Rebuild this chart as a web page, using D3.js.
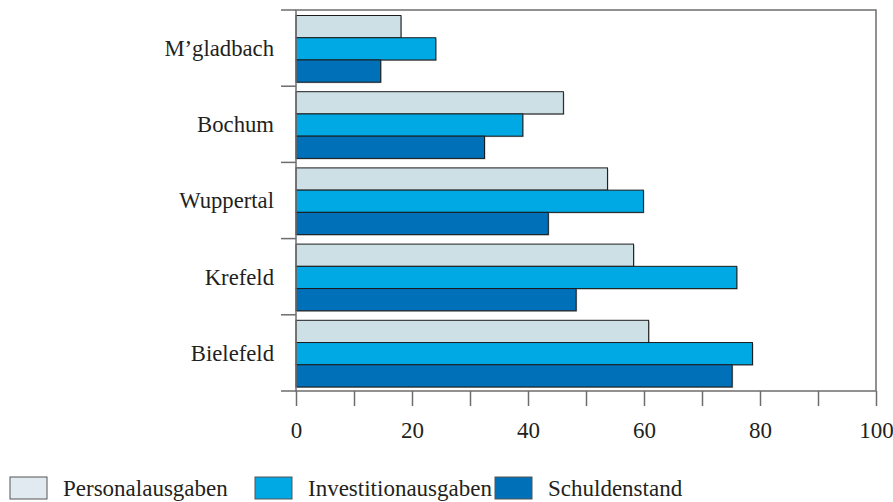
<!DOCTYPE html>
<html>
<head>
<meta charset="utf-8">
<script src="https://cdn.jsdelivr.net/npm/d3@7"></script>
<style>
  body { margin: 0; background: #fff; }
  text { font-family: "Liberation Serif", "Times New Roman", serif; fill: #231f20; }
</style>
</head>
<body>
<div id="chart"></div>
<script>
// data
var cities = ["M\u2019gladbach", "Bochum", "Wuppertal", "Krefeld", "Bielefeld"];
var seriesNames = ["Personalausgaben", "Investitionausgaben", "Schuldenstand"];
var personal = [18.1, 46.1, 53.7, 58.2, 60.8];
var invest = [24.1, 39.1, 59.9, 76.0, 78.7];
var schulden = [14.6, 32.5, 43.5, 48.3, 75.2];
var xTicks = [0, 20, 40, 60, 80, 100];

var colors = ["#cde0e6", "#00a9e3", "#0071b8"];
var legendColors = ["#e1eaf0", "#00a9e3", "#0071b8"];

var margin = {top: 10, right: 17, bottom: 111, left: 296},
    width = 893 - margin.left - margin.right,
    height = 502 - margin.top - margin.bottom;

var svg = d3.select("#chart").append("svg")
    .attr("width", 893)
    .attr("height", 502);

var g = svg.append("g")
    .attr("transform", "translate(" + margin.left + "," + margin.top + ")");

var x = d3.scaleLinear().domain([0, 100]).range([0, width]);
var y = d3.scaleBand().domain(cities).range([0, height]);
var inner = d3.scaleBand().domain(seriesNames).range([5.5, y.bandwidth() - 4]);

var table = cities.map(function(c, i) {
    return {city: c, values: [personal[i], invest[i], schulden[i]]};
});

// bars
var groups = g.selectAll("g.city")
    .data(table)
    .enter().append("g")
    .attr("class", "city")
    .attr("transform", function(d) { return "translate(0," + y(d.city) + ")"; });

groups.each(function(d) {
    var grp = d3.select(this);
    d.values.forEach(function(v, j) {
        // faint shadow
        grp.append("rect")
            .attr("x", 1)
            .attr("y", inner(seriesNames[j]) + 1)
            .attr("width", x(v))
            .attr("height", inner.bandwidth())
            .attr("fill", "#b5b5b5");
        grp.append("rect")
            .attr("x", 0)
            .attr("y", inner(seriesNames[j]))
            .attr("width", x(v))
            .attr("height", inner.bandwidth())
            .attr("fill", colors[j])
            .attr("stroke", "#1c1c1c")
            .attr("stroke-width", 1);
    });
});

// frame
g.append("rect")
    .attr("x", 0).attr("y", 0)
    .attr("width", width).attr("height", height)
    .attr("fill", "none")
    .attr("stroke", "#6d6d6d")
    .attr("stroke-width", 1.5);

// category ticks on the left
var bounds = [0].concat(cities.map(function(c) { return y(c) + y.bandwidth(); }));
g.selectAll("line.ytick")
    .data(bounds)
    .enter().append("line")
    .attr("class", "ytick")
    .attr("x1", -15).attr("x2", 0)
    .attr("y1", function(d) { return d; })
    .attr("y2", function(d) { return d; })
    .attr("stroke", "#6d6d6d")
    .attr("stroke-width", 1.5);

g.selectAll("text.city")
    .data(cities)
    .enter().append("text")
    .attr("class", "city")
    .attr("x", -22)
    .attr("y", function(d) { return y(d) + y.bandwidth() / 2; })
    .attr("dy", "0.35em")
    .attr("text-anchor", "end")
    .style("font-size", "22.7px")
    .text(function(d) { return d; });

// x axis
var xAxis = g.append("g")
    .attr("transform", "translate(0," + height + ")")
    .call(d3.axisBottom(x).ticks(10).tickSize(15).tickFormat(function(d) {
        return xTicks.indexOf(d) >= 0 ? d : "";
    }));
xAxis.select(".domain").remove();
xAxis.selectAll(".tick line").attr("stroke", "#6d6d6d").attr("stroke-width", 1.5);
xAxis.selectAll(".tick text")
    .attr("y", 47)
    .attr("dy", "0")
    .style("font-size", "23px")
    .style("font-family", "Liberation Serif");

// legend
var legendX = [10, 255, 495];
var legend = svg.append("g").attr("transform", "translate(0,477)");
seriesNames.forEach(function(name, i) {
    var item = legend.append("g").attr("transform", "translate(" + legendX[i] + ",0)");
    item.append("rect")
        .attr("x", 0).attr("y", 0)
        .attr("width", 37).attr("height", 22)
        .attr("fill", legendColors[i])
        .attr("stroke", "#555")
        .attr("stroke-width", 1);
    item.append("text")
        .attr("x", 53)
        .attr("y", 19)
        .style("font-size", "23px")
        .text(name);
});
</script>
</body>
</html>
